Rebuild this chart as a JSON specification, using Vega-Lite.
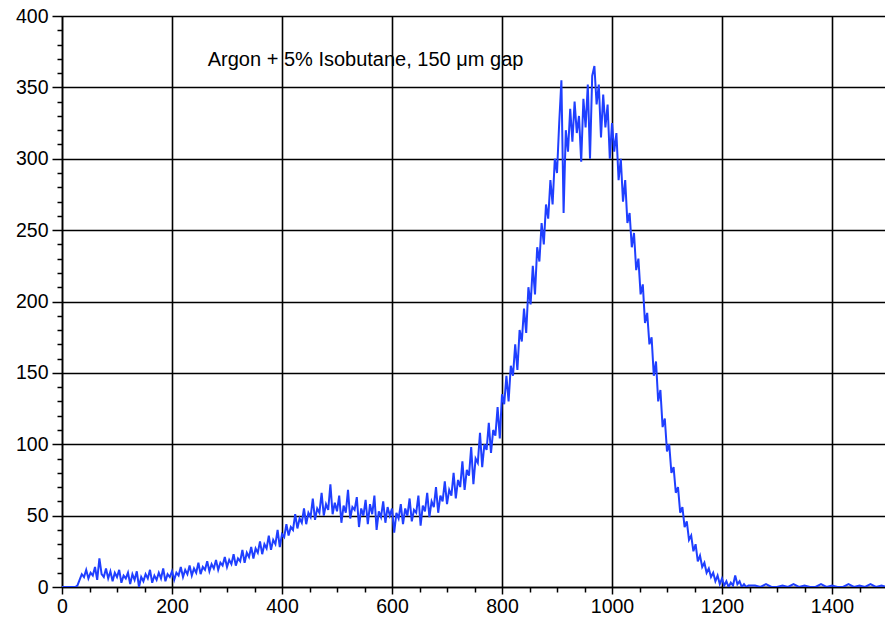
{
  "$schema": "https://vega.github.io/schema/vega-lite/v6.json",
  "width": 825,
  "height": 571,
  "autosize": {"type": "none"},
  "padding": {"left": 62, "top": 16, "right": 0, "bottom": 32},
  "background": "white",
  "config": {
    "view": {"stroke": null},
    "axis": {"domainColor": "black", "tickColor": "black", "gridColor": "black", "labelColor": "black", "labelFont": "Liberation Sans", "labelFontSize": 19.5, "domainWidth": 1.5, "tickWidth": 1.5, "gridWidth": 1.6}
  },
  "layer": [
    {
      "data": {"values": [
{"x":0,"y":0},{"x":4,"y":0},{"x":8,"y":0},{"x":12,"y":0},{"x":16,"y":0},{"x":20,"y":0},{"x":24,"y":0},{"x":28,"y":1},{"x":32,"y":5},{"x":36,"y":9},
{"x":40,"y":7},{"x":44,"y":12},{"x":48,"y":6},{"x":52,"y":10},{"x":56,"y":8},{"x":60,"y":14},{"x":64,"y":5},{"x":68,"y":20},{"x":72,"y":9},{"x":76,"y":7},
{"x":80,"y":13},{"x":84,"y":6},{"x":88,"y":11},{"x":92,"y":4},{"x":96,"y":10},{"x":100,"y":7},{"x":104,"y":12},{"x":108,"y":3},{"x":112,"y":8},{"x":116,"y":6},
{"x":120,"y":10},{"x":124,"y":2},{"x":128,"y":9},{"x":132,"y":5},{"x":136,"y":11},{"x":140,"y":0},{"x":144,"y":7},{"x":148,"y":4},{"x":152,"y":9},{"x":156,"y":6},
{"x":160,"y":12},{"x":164,"y":3},{"x":168,"y":8},{"x":172,"y":5},{"x":176,"y":10},{"x":180,"y":6},{"x":184,"y":13},{"x":188,"y":4},{"x":192,"y":9},{"x":196,"y":7},
{"x":200,"y":11},{"x":204,"y":5},{"x":208,"y":10},{"x":212,"y":8},{"x":216,"y":14},{"x":220,"y":7},{"x":224,"y":12},{"x":228,"y":9},{"x":232,"y":15},{"x":236,"y":8},
{"x":240,"y":13},{"x":244,"y":10},{"x":248,"y":17},{"x":252,"y":9},{"x":256,"y":14},{"x":260,"y":12},{"x":264,"y":18},{"x":268,"y":11},{"x":272,"y":16},{"x":276,"y":13},
{"x":280,"y":19},{"x":284,"y":12},{"x":288,"y":17},{"x":292,"y":15},{"x":296,"y":21},{"x":300,"y":14},{"x":304,"y":19},{"x":308,"y":16},{"x":312,"y":23},{"x":316,"y":15},
{"x":320,"y":20},{"x":324,"y":18},{"x":328,"y":26},{"x":332,"y":17},{"x":336,"y":24},{"x":340,"y":21},{"x":344,"y":28},{"x":348,"y":20},{"x":352,"y":27},{"x":356,"y":24},
{"x":360,"y":32},{"x":364,"y":23},{"x":368,"y":30},{"x":372,"y":27},{"x":376,"y":36},{"x":380,"y":26},{"x":384,"y":33},{"x":388,"y":30},{"x":392,"y":40},{"x":396,"y":28},
{"x":400,"y":37},{"x":404,"y":35},{"x":408,"y":44},{"x":412,"y":36},{"x":416,"y":42},{"x":420,"y":40},{"x":424,"y":51},{"x":428,"y":41},{"x":432,"y":48},{"x":436,"y":45},
{"x":440,"y":55},{"x":444,"y":44},{"x":448,"y":52},{"x":452,"y":49},{"x":456,"y":62},{"x":460,"y":47},{"x":464,"y":55},{"x":468,"y":52},{"x":472,"y":66},{"x":476,"y":50},
{"x":480,"y":58},{"x":484,"y":54},{"x":488,"y":72},{"x":492,"y":51},{"x":496,"y":59},{"x":500,"y":53},{"x":504,"y":64},{"x":508,"y":45},{"x":512,"y":57},{"x":516,"y":52},
{"x":520,"y":68},{"x":524,"y":48},{"x":528,"y":56},{"x":532,"y":54},{"x":536,"y":63},{"x":540,"y":42},{"x":544,"y":55},{"x":548,"y":50},{"x":552,"y":61},{"x":556,"y":44},
{"x":560,"y":58},{"x":564,"y":51},{"x":568,"y":64},{"x":572,"y":40},{"x":576,"y":53},{"x":580,"y":49},{"x":584,"y":60},{"x":588,"y":45},{"x":592,"y":56},{"x":596,"y":50},
{"x":600,"y":55},{"x":604,"y":38},{"x":608,"y":52},{"x":612,"y":48},{"x":616,"y":58},{"x":620,"y":44},{"x":624,"y":55},{"x":628,"y":50},{"x":632,"y":62},{"x":636,"y":46},
{"x":640,"y":54},{"x":644,"y":52},{"x":648,"y":64},{"x":652,"y":43},{"x":656,"y":57},{"x":660,"y":53},{"x":664,"y":66},{"x":668,"y":49},{"x":672,"y":60},{"x":676,"y":56},
{"x":680,"y":70},{"x":684,"y":52},{"x":688,"y":64},{"x":692,"y":60},{"x":696,"y":74},{"x":700,"y":58},{"x":704,"y":68},{"x":708,"y":64},{"x":712,"y":80},{"x":716,"y":62},
{"x":720,"y":75},{"x":724,"y":70},{"x":728,"y":88},{"x":732,"y":68},{"x":736,"y":82},{"x":740,"y":78},{"x":744,"y":98},{"x":748,"y":72},{"x":752,"y":90},{"x":756,"y":87},
{"x":760,"y":108},{"x":764,"y":84},{"x":768,"y":100},{"x":772,"y":96},{"x":776,"y":115},{"x":780,"y":94},{"x":784,"y":110},{"x":788,"y":106},{"x":792,"y":126},{"x":796,"y":104},
{"x":800,"y":135},{"x":804,"y":128},{"x":808,"y":148},{"x":812,"y":130},{"x":816,"y":155},{"x":820,"y":148},{"x":824,"y":170},{"x":828,"y":152},{"x":832,"y":180},{"x":836,"y":172},
{"x":840,"y":195},{"x":844,"y":178},{"x":848,"y":210},{"x":852,"y":198},{"x":856,"y":225},{"x":860,"y":205},{"x":864,"y":238},{"x":868,"y":228},{"x":872,"y":255},{"x":876,"y":240},
{"x":880,"y":268},{"x":884,"y":258},{"x":888,"y":285},{"x":892,"y":268},{"x":896,"y":300},{"x":900,"y":290},{"x":904,"y":325},{"x":908,"y":355},{"x":912,"y":262},{"x":916,"y":320},
{"x":920,"y":305},{"x":924,"y":335},{"x":928,"y":312},{"x":932,"y":340},{"x":936,"y":318},{"x":940,"y":330},{"x":944,"y":298},{"x":948,"y":342},{"x":952,"y":322},{"x":956,"y":352},
{"x":960,"y":300},{"x":964,"y":358},{"x":968,"y":365},{"x":972,"y":338},{"x":976,"y":352},{"x":980,"y":315},{"x":984,"y":345},{"x":988,"y":322},{"x":992,"y":338},{"x":996,"y":300},
{"x":1000,"y":325},{"x":1004,"y":305},{"x":1008,"y":318},{"x":1012,"y":285},{"x":1016,"y":300},{"x":1020,"y":270},{"x":1024,"y":285},{"x":1028,"y":255},{"x":1032,"y":262},{"x":1036,"y":238},
{"x":1040,"y":248},{"x":1044,"y":222},{"x":1048,"y":230},{"x":1052,"y":205},{"x":1056,"y":212},{"x":1060,"y":185},{"x":1064,"y":192},{"x":1068,"y":170},{"x":1072,"y":175},{"x":1076,"y":148},
{"x":1080,"y":158},{"x":1084,"y":130},{"x":1088,"y":138},{"x":1092,"y":112},{"x":1096,"y":118},{"x":1100,"y":95},{"x":1104,"y":100},{"x":1108,"y":80},{"x":1112,"y":84},{"x":1116,"y":66},
{"x":1120,"y":70},{"x":1124,"y":52},{"x":1128,"y":56},{"x":1132,"y":42},{"x":1136,"y":46},{"x":1140,"y":33},{"x":1144,"y":36},{"x":1148,"y":25},{"x":1152,"y":30},{"x":1156,"y":18},
{"x":1160,"y":22},{"x":1164,"y":14},{"x":1168,"y":17},{"x":1172,"y":10},{"x":1176,"y":13},{"x":1180,"y":7},{"x":1184,"y":10},{"x":1188,"y":4},{"x":1192,"y":8},{"x":1196,"y":2},
{"x":1200,"y":6},{"x":1204,"y":1},{"x":1208,"y":4},{"x":1212,"y":0},{"x":1216,"y":3},{"x":1220,"y":1},{"x":1224,"y":8},{"x":1228,"y":2},{"x":1232,"y":4},{"x":1236,"y":0},
{"x":1240,"y":2},{"x":1244,"y":0},{"x":1248,"y":1},{"x":1260,"y":1},{"x":1270,"y":0},{"x":1280,"y":2},{"x":1290,"y":0},{"x":1300,"y":0},{"x":1310,"y":1},{"x":1320,"y":0},
{"x":1330,"y":2},{"x":1340,"y":0},{"x":1350,"y":1},{"x":1360,"y":0},{"x":1370,"y":0},{"x":1380,"y":2},{"x":1390,"y":0},{"x":1400,"y":1},{"x":1410,"y":0},{"x":1420,"y":0},
{"x":1430,"y":2},{"x":1440,"y":0},{"x":1450,"y":1},{"x":1460,"y":0},{"x":1470,"y":2},{"x":1480,"y":0},{"x":1490,"y":1},{"x":1500,"y":0}
      ]},
      "mark": {"type": "line", "color": "#1f3fff", "strokeWidth": 2, "clip": true},
      "encoding": {
        "x": {
          "field": "x", "type": "quantitative",
          "scale": {"domain": [0, 1500], "nice": false},
          "axis": {
            "title": null,
            "values": [0,50,100,150,200,250,300,350,400,450,500,550,600,650,700,750,800,850,900,950,1000,1050,1100,1150,1200,1250,1300,1350,1400,1450,1500],
            "tickCount": 1000,
            "format": "d",
            "labelExpr": "datum.value % 200 === 0 ? datum.label : ''",
            "labelFlush": false,
            "labelOverlap": false,
            "labelPadding": 3,
            "gridOpacity": {"condition": {"test": "datum.value % 200 === 0", "value": 1}, "value": 0},
            "tickSize": {"condition": {"test": "datum.value % 200 === 0", "value": 7}, "value": 5}
          }
        },
        "y": {
          "field": "y", "type": "quantitative",
          "scale": {"domain": [0, 400], "nice": false},
          "axis": {
            "title": null,
            "values": [0,10,20,30,40,50,60,70,80,90,100,110,120,130,140,150,160,170,180,190,200,210,220,230,240,250,260,270,280,290,300,310,320,330,340,350,360,370,380,390,400],
            "tickCount": 1000,
            "format": "d",
            "labelExpr": "datum.value % 50 === 0 ? datum.label : ''",
            "labelFlush": false,
            "labelOverlap": false,
            "labelPadding": 4,
            "gridOpacity": {"condition": {"test": "datum.value % 50 === 0", "value": 1}, "value": 0},
            "tickSize": {"condition": {"test": "datum.value % 50 === 0", "value": 10}, "value": 5}
          }
        }
      }
    },
    {
      "data": {"values": [{}]},
      "mark": {"type": "text", "align": "left", "baseline": "middle", "font": "Liberation Sans", "fontSize": 20, "color": "black"},
      "encoding": {
        "x": {"datum": 265, "type": "quantitative"},
        "y": {"datum": 369, "type": "quantitative"},
        "text": {"value": "Argon + 5% Isobutane, 150 μm gap"}
      }
    }
  ]
}
